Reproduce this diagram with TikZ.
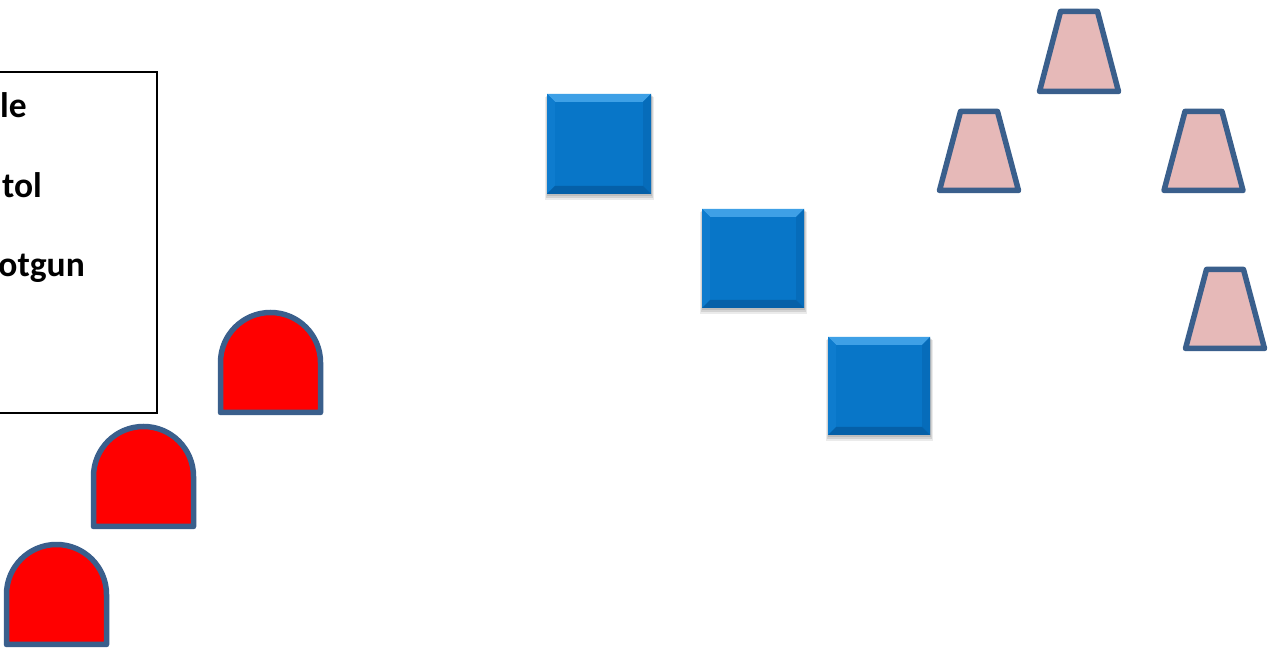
\documentclass[tikz,border=0pt]{standalone}
\usepackage{fontspec}
\setmainfont{Carlito}
\definecolor{sqmain}{RGB}{8,118,200}
\definecolor{sqlight}{RGB}{62,160,230}
\definecolor{sqleft}{RGB}{14,124,206}
\definecolor{sqright}{RGB}{6,108,186}
\definecolor{sqdark}{RGB}{5,96,168}
\definecolor{edgeblue}{RGB}{58,95,140}
\definecolor{trapfill}{RGB}{230,185,184}
\definecolor{redfill}{RGB}{255,0,0}
\tikzset{
  trap/.style={draw=edgeblue, fill=trapfill, line width=5.5pt, line join=round},
  dome/.style={draw=edgeblue, fill=redfill, line width=5.5pt, line join=round},
  legendbox/.style={draw=black, line width=2pt},
  legendtext/.style={font=\fontsize{35.5}{42}\selectfont\bfseries, inner sep=0pt, text=black},
}
\newcommand{\bevelsq}[4]{% a b c d : left bottom right top
  \fill[black, opacity=0.08] (#1-2,#2-6) rectangle (#3+3,#4-3);
  \fill[black, opacity=0.10] (#1-1,#2-4) rectangle (#3+2,#4-2);
  \fill[black, opacity=0.10] (#1,#2-2) rectangle (#3+1,#4-1);
  \fill[sqmain] (#1,#2) rectangle (#3,#4);
  \fill[sqlight] (#1,#4) -- (#3,#4) -- (#3-8,#4-8) -- (#1+8,#4-8) -- cycle;
  \fill[sqleft] (#1,#2) -- (#1,#4) -- (#1+8,#4-8) -- (#1+8,#2+8) -- cycle;
  \fill[sqright] (#3,#2) -- (#3,#4) -- (#3-8,#4-8) -- (#3-8,#2+8) -- cycle;
  \fill[sqdark] (#1,#2) -- (#3,#2) -- (#3-8,#2+8) -- (#1+8,#2+8) -- cycle;
}
\newcommand{\trapz}[3]{% cx bottom top
  \draw[trap] (#1-39.5,#2) -- (#1+39.5,#2) -- (#1+18.5,#3) -- (#1-18.5,#3) -- cycle;
}
\newcommand{\domeshape}[3]{% left right bottom
  \draw[dome] (#1,#3) -- (#1,#3+50) arc[start angle=180, end angle=0, radius=50] -- (#2,#3) -- cycle;
}
\begin{document}
\begin{tikzpicture}[x=1pt,y=1pt]
\useasboundingbox (0,0) rectangle (1274,650);
\clip (0,0) rectangle (1274,650);
\fill[white] (0,0) rectangle (1274,650);
% legend
\draw[legendbox] (-10,237) rectangle (157,578);
\node[legendtext, anchor=base east] (t1) at (27,532) {le};
\node[legendtext, anchor=base east] (t2) at (42,452.5) {tol};
\node[legendtext, anchor=base east] (t3) at (85,373) {otgun};
% blue squares
\bevelsq{547}{456}{651}{556}
\bevelsq{702}{342}{804}{441}
\bevelsq{828}{215}{930}{313}
% trapezoids
\trapz{1079}{558.5}{638.5}
\trapz{979}{459.5}{538.5}
\trapz{1203.5}{459.5}{538.5}
\trapz{1225}{301.5}{380.5}
% domes
\domeshape{220.5}{320.5}{237.5}
\domeshape{93.5}{193.5}{123.5}
\domeshape{6.5}{106.5}{5.5}
\end{tikzpicture}
\end{document}
